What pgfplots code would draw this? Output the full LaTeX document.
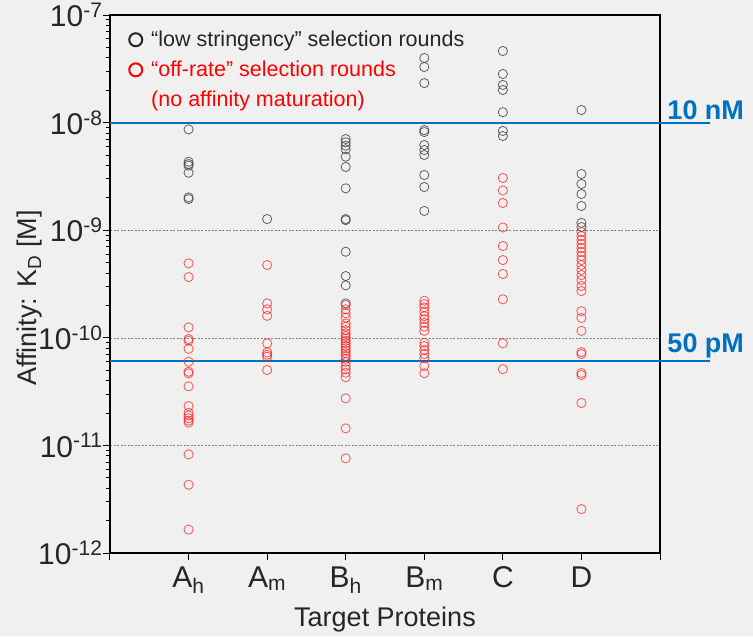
\documentclass[border=0pt]{standalone}
\usepackage{pgfplots}
\pgfplotsset{compat=1.18}
\usepackage{fontspec}
\setmainfont{Liberation Sans}
\usetikzlibrary{backgrounds}
\definecolor{bg}{HTML}{F0F0F0}
\definecolor{lineblue}{RGB}{0,112,192}
\definecolor{ptred}{RGB}{255,30,30}
\definecolor{ptgray}{RGB}{70,70,70}
\begin{document}
\begin{tikzpicture}
\begin{axis}[name=ax,
  width=550pt, height=538pt, scale only axis,
  xmin=0, xmax=7, ymode=log, ymin=1e-12, ymax=1e-7,
  xtick={0,1,2,3,4,5,6,7},
  xticklabels={,A\textsubscript{h},A\textsubscript{m},B\textsubscript{h},B\textsubscript{m},C,D,},
  ytick={1e-12,1e-11,1e-10,1e-9,1e-8,1e-7},
  yticklabels={10\textsuperscript{-12},10\textsuperscript{-11},10\textsuperscript{-10},10\textsuperscript{-9},10\textsuperscript{-8},10\textsuperscript{-7}},
  tick pos=left, tick align=outside,
  major tick length=7pt, minor tick length=4pt,
  tick style={black, line width=1pt},
  axis line style={black, line width=1.5pt},
  ymajorgrids, major grid style={gray, dash pattern=on 2pt off 1.5pt, line width=0.6pt},
  clip=false,
  xlabel={Target Proteins}, ylabel={Affinity: K\textsubscript{D} [M]},
  ticklabel style={font=\fontsize{30}{32}\selectfont, text=black!85},
  yticklabel style={xshift=3pt},
  xticklabel style={yshift=-3pt},
  xlabel style={yshift=-6pt},
  ylabel style={yshift=-11pt, xshift=-14pt},
  label style={font=\fontsize{27}{30}\selectfont, text=black!85},
  legend style={draw=none, fill=none, at={(0,1)}, anchor=north west, xshift=14pt, yshift=-12pt,
    font=\fontsize{21.5}{24}\selectfont, row sep=9pt, legend cell align=left},
]
% low stringency (black)
\addplot[only marks, mark=o, mark size=4.6pt, mark options={line width=0.8pt, draw=ptgray, draw opacity=0.85}, forget plot] coordinates {
(1,8.66e-9) (1,4.33e-9) (1,4.12e-9) (1,3.98e-9) (1,3.42e-9) (1,2.02e-9) (1,1.95e-9)
(2,1.27e-9)
(3,7.04e-9) (3,6.56e-9) (3,6.10e-9) (3,5.65e-9) (3,4.82e-9) (3,3.87e-9) (3,2.45e-9) (3,1.27e-9) (3,1.24e-9) (3,6.31e-10) (3,3.75e-10) (3,3.07e-10) (3,2.09e-10)
(4,3.99e-8) (4,3.29e-8) (4,2.33e-8) (4,8.53e-9) (4,8.18e-9) (4,6.19e-9) (4,5.56e-9) (4,5.00e-9) (4,3.26e-9) (4,2.52e-9) (4,1.51e-9)
(5,4.63e-8) (5,2.83e-8) (5,2.24e-8) (5,2.01e-8) (5,1.25e-8) (5,8.36e-9) (5,7.51e-9)
(6,1.31e-8) (6,3.33e-9) (6,2.69e-9) (6,2.17e-9) (6,1.68e-9) (6,1.17e-9) (6,1.07e-9)
};
% off-rate (red)
\addplot[only marks, mark=o, mark size=4.6pt, mark options={line width=0.8pt, draw=ptred, draw opacity=0.75}, forget plot] coordinates {
(1,4.92e-10) (1,3.67e-10) (1,1.25e-10) (1,9.75e-11) (1,9.4e-11) (1,7.9e-11) (1,6.0e-11) (1,4.84e-11) (1,4.68e-11) (1,3.54e-11) (1,2.32e-11) (1,2.01e-11) (1,1.9e-11) (1,1.79e-11) (1,1.70e-11) (1,1.63e-11) (1,8.26e-12) (1,4.31e-12) (1,1.65e-12)
(2,4.75e-10) (2,2.09e-10) (2,1.84e-10) (2,1.60e-10) (2,8.89e-11) (2,7.33e-11) (2,6.97e-11) (2,6.68e-11) (2,5.02e-11)
(3,2.02e-10) (3,1.84e-10) (3,1.69e-10) (3,1.54e-10) (3,1.36e-10) (3,1.27e-10) (3,1.18e-10) (3,1.10e-10) (3,1.04e-10) (3,9.89e-11) (3,9.40e-11) (3,8.89e-11) (3,8.39e-11) (3,7.99e-11) (3,7.59e-11) (3,7.18e-11) (3,6.78e-11) (3,6.39e-11) (3,5.99e-11) (3,5.47e-11) (3,5.10e-11) (3,4.74e-11) (3,4.30e-11) (3,2.74e-11) (3,1.44e-11) (3,7.59e-12)
(4,2.21e-10) (4,2.06e-10) (4,1.92e-10) (4,1.75e-10) (4,1.59e-10) (4,1.49e-10) (4,1.38e-10) (4,1.27e-10) (4,1.16e-10) (4,9.00e-11) (4,8.39e-11) (4,7.70e-11) (4,7.07e-11) (4,6.45e-11) (4,5.47e-11) (4,4.69e-11)
(5,3.06e-9) (5,2.34e-9) (5,1.79e-9) (5,1.06e-9) (5,7.13e-10) (5,5.28e-10) (5,3.92e-10) (5,2.28e-10) (5,8.89e-11) (5,5.11e-11)
(6,9.62e-10) (6,8.83e-10) (6,8.11e-10) (6,7.44e-10) (6,6.83e-10) (6,6.27e-10) (6,5.76e-10) (6,5.28e-10) (6,4.75e-10) (6,4.27e-10) (6,3.83e-10) (6,3.45e-10) (6,3.03e-10) (6,2.72e-10) (6,1.77e-10) (6,1.53e-10) (6,1.16e-10) (6,7.38e-11) (6,7.07e-11) (6,4.71e-11) (6,4.51e-11) (6,2.48e-11) (6,2.56e-12)
};
% reference lines
\addplot[lineblue, line width=2.2pt, forget plot] coordinates {(0,1e-8) (7.64,1e-8)};
\addplot[lineblue, line width=2.2pt, forget plot] coordinates {(0,6.1e-11) (7.64,6.1e-11)};
\node[anchor=south west, inner sep=1pt, yshift=2pt, text=lineblue, font=\bfseries\fontsize{27}{29}\selectfont] at (axis cs:7.08,1e-8) {10 nM};
\node[anchor=south west, inner sep=1pt, yshift=2pt, text=lineblue, font=\bfseries\fontsize{27}{29}\selectfont] at (axis cs:7.08,6.1e-11) {50 pM};
% legend
\addlegendimage{only marks, mark=o, mark size=6.5pt, mark options={line width=2pt, draw=black!85}}
\addlegendentry{\hspace{7pt}\textcolor{black!85}{“low stringency” selection rounds}}
\addlegendimage{only marks, mark=o, mark size=6.5pt, mark options={line width=2pt, draw=red}}
\addlegendentry{\hspace{7pt}\textcolor{red}{“off-rate” selection rounds}}
\addlegendimage{empty legend}
\addlegendentry{\hspace{7pt}\textcolor{red}{(no affinity maturation)}}
\end{axis}
\begin{scope}[on background layer]
\fill[bg] ([xshift=-110pt,yshift=-83pt]ax.south west) rectangle ([xshift=93pt,yshift=15pt]ax.north east);
\end{scope}
\pgfresetboundingbox
\path[use as bounding box] ([xshift=-110pt,yshift=-83pt]ax.south west) rectangle ([xshift=93pt,yshift=15pt]ax.north east);
\end{tikzpicture}
\end{document}
